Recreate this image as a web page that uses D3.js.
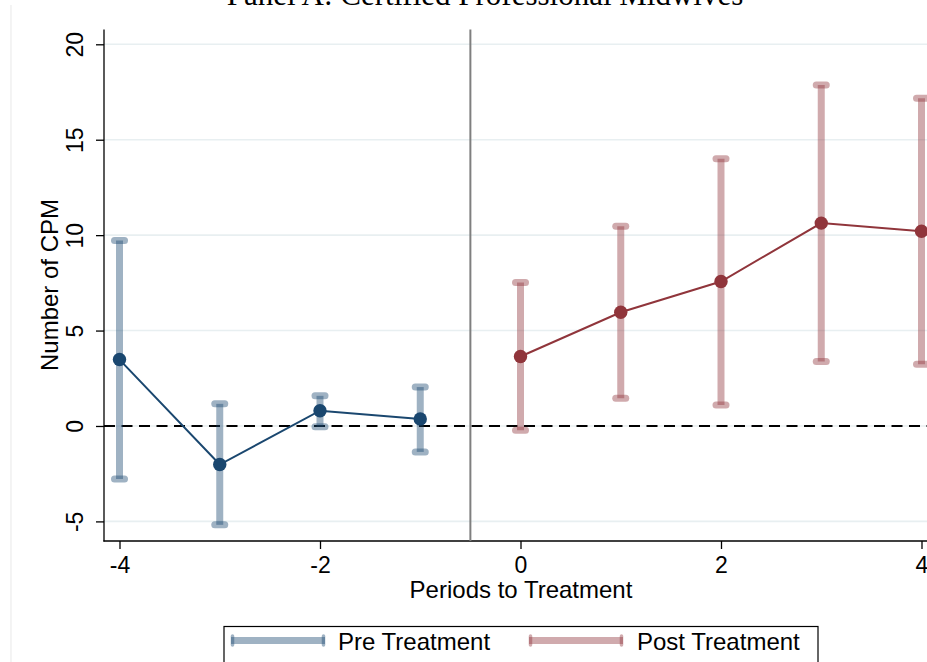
<!DOCTYPE html>
<html>
<head>
<meta charset="utf-8">
<script src="https://cdn.jsdelivr.net/npm/d3@7"></script>
<style>
  html, body { margin: 0; padding: 0; background: #fff; overflow: hidden; }
  svg { display: block; }
  text { font-family: "Liberation Sans", Arial, sans-serif; fill: #000; }
</style>
</head>
<body>
<svg id="chart" width="927" height="662"></svg>
<script>
// Event-study estimates with 95% confidence intervals
const prePeriods  = [-4, -3, -2, -1];
const preCoef     = [3.48, -2.02, 0.80, 0.37];
const preLower    = [-2.78, -5.18, -0.04, -1.36];
const preUpper    = [9.72, 1.16, 1.58, 2.04];

const postPeriods = [0, 1, 2, 3, 4];
const postCoef    = [3.64, 5.96, 7.57, 10.63, 10.20];
const postLower   = [-0.22, 1.45, 1.10, 3.38, 3.24];
const postUpper   = [7.52, 10.47, 14.00, 17.87, 17.17];

const yTicks = [-5, 0, 5, 10, 15, 20];
const xTicks = [-4, -2, 0, 2, 4];
const treatmentLine = -0.5;

const titleText  = "Panel A: Certified Professional Midwives";
const xAxisTitle = "Periods to Treatment";
const yAxisTitle = "Number of CPM";
const legendLabels = ["Pre Treatment", "Post Treatment"];

const preColor  = "#1a476f";
const postColor = "#90353b";
const barOpacity = 0.42;

const svg = d3.select("#chart");

const plot = { left: 104, top: 29.5, bottom: 541, right: 960 };

const x = d3.scaleLinear().domain([-4, 4]).range([119.5, 921.5]);
const y = d3.scaleLinear().domain([-5, 20]).range([521.4, 44.3]);

// plain hyphen-minus tick labels
const tickFmt = d => String(d);

// faint outer frame edge
svg.append("line")
  .attr("x1", 11).attr("x2", 11).attr("y1", 5).attr("y2", 662)
  .attr("stroke", "#ececec").attr("stroke-width", 1.2);

// title (serif)
svg.append("text")
  .attr("x", 485).attr("y", 5)
  .attr("text-anchor", "middle")
  .style("font-family", "'Liberation Serif', 'Times New Roman', serif")
  .style("font-size", "31px")
  .text(titleText);

// horizontal gridlines
svg.append("g").selectAll("line")
  .data(yTicks)
  .join("line")
  .attr("x1", plot.left).attr("x2", plot.right)
  .attr("y1", d => y(d)).attr("y2", d => y(d))
  .attr("stroke", "#e8eff1").attr("stroke-width", 1.6);

// y axis
const yAxis = svg.append("g")
  .attr("transform", `translate(${plot.left},0)`)
  .call(d3.axisLeft(y).tickValues(yTicks).tickSize(8).tickPadding(0).tickFormat(tickFmt));
yAxis.select(".domain").remove();
yAxis.selectAll(".tick line").attr("stroke", "#000").attr("stroke-width", 1.3);
yAxis.selectAll(".tick text")
  .attr("x", 0).attr("dy", null)
  .attr("transform", "translate(-21,0) rotate(-90)")
  .attr("text-anchor", "middle")
  .style("font-size", "23px")
  .style("font-family", "'Liberation Sans', Arial, sans-serif");
svg.append("line")
  .attr("x1", plot.left).attr("x2", plot.left)
  .attr("y1", plot.top).attr("y2", plot.bottom + 0.6)
  .attr("stroke", "#000").attr("stroke-width", 1.3);

// x axis
const xAxis = svg.append("g")
  .attr("transform", `translate(0,${plot.bottom})`)
  .call(d3.axisBottom(x).tickValues(xTicks).tickSize(8).tickPadding(0).tickFormat(tickFmt));
xAxis.select(".domain").remove();
xAxis.selectAll(".tick line").attr("stroke", "#000").attr("stroke-width", 1.3);
xAxis.selectAll(".tick text")
  .attr("y", 32).attr("dy", null)
  .style("font-size", "23px")
  .style("font-family", "'Liberation Sans', Arial, sans-serif");
svg.append("line")
  .attr("x1", plot.left - 0.6).attr("x2", plot.right)
  .attr("y1", plot.bottom).attr("y2", plot.bottom)
  .attr("stroke", "#000").attr("stroke-width", 1.3);

// axis titles
svg.append("text")
  .attr("x", 521).attr("y", 598)
  .attr("text-anchor", "middle")
  .style("font-size", "24px")
  .text(xAxisTitle);
svg.append("text")
  .attr("transform", "translate(57.5,285) rotate(-90)")
  .attr("text-anchor", "middle")
  .style("font-size", "24px")
  .text(yAxisTitle);

// zero reference line
svg.append("line")
  .attr("x1", plot.left).attr("x2", plot.right)
  .attr("y1", y(0)).attr("y2", y(0))
  .attr("stroke", "#000").attr("stroke-width", 2)
  .attr("stroke-dasharray", "11,6.5");

// treatment onset line
svg.append("line")
  .attr("x1", x(treatmentLine)).attr("x2", x(treatmentLine))
  .attr("y1", plot.top).attr("y2", plot.bottom)
  .attr("stroke", "#7f7f7f").attr("stroke-width", 2);

// confidence interval bars with caps
function drawCI(periods, lower, upper, color) {
  const g = svg.append("g");
  const rows = periods.map((p, i) => ({ p, lo: lower[i], hi: upper[i] }));
  g.selectAll("line.stem")
    .data(rows).join("line").attr("class", "stem")
    .attr("x1", d => x(d.p)).attr("x2", d => x(d.p))
    .attr("y1", d => y(d.lo)).attr("y2", d => y(d.hi))
    .attr("stroke", color).attr("stroke-opacity", barOpacity)
    .attr("stroke-width", 7);
  const caps = rows.flatMap(d => [{ p: d.p, v: d.lo }, { p: d.p, v: d.hi }]);
  g.selectAll("line.cap")
    .data(caps).join("line").attr("class", "cap")
    .attr("x1", d => x(d.p) - 5).attr("x2", d => x(d.p) + 5)
    .attr("y1", d => y(d.v)).attr("y2", d => y(d.v))
    .attr("stroke", color).attr("stroke-opacity", barOpacity)
    .attr("stroke-width", 7).attr("stroke-linecap", "round");
}
drawCI(prePeriods, preLower, preUpper, preColor);
drawCI(postPeriods, postLower, postUpper, postColor);

// connected point estimates
function drawSeries(periods, coef, color) {
  const pts = periods.map((p, i) => [p, coef[i]]);
  svg.append("path")
    .datum(pts)
    .attr("d", d3.line().x(d => x(d[0])).y(d => y(d[1])))
    .attr("fill", "none").attr("stroke", color).attr("stroke-width", 2);
  svg.append("g").selectAll("circle")
    .data(pts).join("circle")
    .attr("cx", d => x(d[0])).attr("cy", d => y(d[1]))
    .attr("r", 6.7).attr("fill", color);
}
drawSeries(prePeriods, preCoef, preColor);
drawSeries(postPeriods, postCoef, postColor);

// legend
const legend = svg.append("g");
legend.append("rect")
  .attr("x", 224).attr("y", 626.5).attr("width", 594).attr("height", 60)
  .attr("fill", "#fff").attr("stroke", "#000").attr("stroke-width", 1.2);
const legendItems = [
  { label: legendLabels[0], color: preColor, x0: 231, x1: 325, tx: 338 },
  { label: legendLabels[1], color: postColor, x0: 529, x1: 623, tx: 637 }
];
legendItems.forEach(it => {
  legend.append("line")
    .attr("x1", it.x0).attr("x2", it.x1).attr("y1", 640.5).attr("y2", 640.5)
    .attr("stroke", it.color).attr("stroke-opacity", barOpacity).attr("stroke-width", 6.8);
  [it.x0 + 1.5, it.x1 - 1.5].forEach(cx => {
    legend.append("line")
      .attr("x1", cx).attr("x2", cx).attr("y1", 636).attr("y2", 645)
      .attr("stroke", it.color).attr("stroke-opacity", barOpacity).attr("stroke-width", 3.5)
      .attr("stroke-linecap", "round");
  });
  legend.append("text")
    .attr("x", it.tx).attr("y", 649.5)
    .style("font-size", "24px")
    .text(it.label);
});
</script>
</body>
</html>
